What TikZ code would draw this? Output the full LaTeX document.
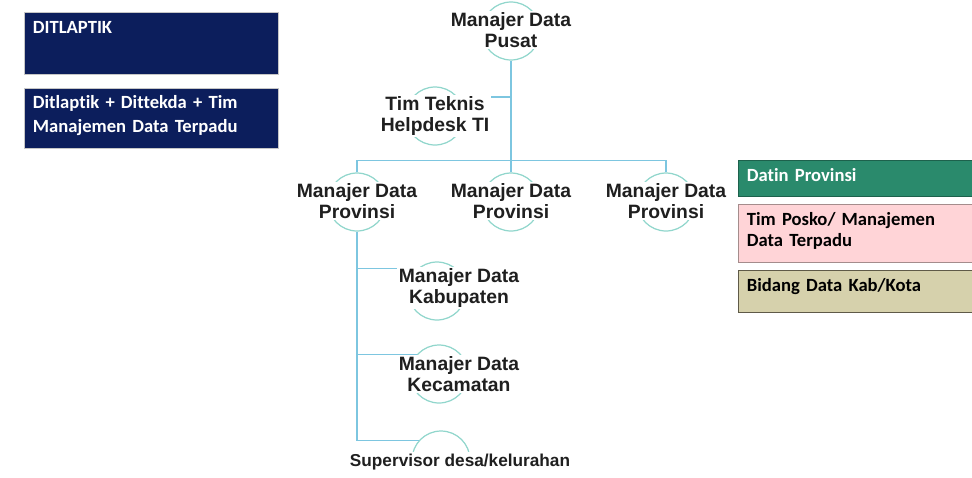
\documentclass[tikz,border=0pt]{standalone}
\usepackage{fontspec}
\setmainfont{Liberation Sans}
\newfontfamily\calibri[Ligatures=NoCommon]{Carlito}
\definecolor{navy}{RGB}{12,30,92}
\definecolor{datin}{RGB}{42,138,108}
\definecolor{posko}{RGB}{255,212,215}
\definecolor{poskoline}{RGB}{165,140,140}
\definecolor{bidang}{RGB}{214,209,172}
\definecolor{bidangline}{RGB}{95,90,72}
\definecolor{linkblue}{RGB}{125,198,224}
\definecolor{ringteal}{RGB}{145,214,204}
\tikzset{
  ring/.style={circle,draw=ringteal,line width=0.7pt,minimum size=1.16cm,inner sep=0pt},
  role/.style={fill=white,inner sep=1pt,align=center,text=black!88,
    font=\fontsize{11}{12}\selectfont\bfseries},
  link/.style={draw=linkblue,line width=0.85pt},
  legend/.style={anchor=north west,inner xsep=0.17cm,inner ysep=0pt,align=left,
    font=\calibri\fontsize{10.6}{12}\selectfont\bfseries},
}
\begin{document}
\begin{tikzpicture}[x=0.02cm,y=-0.02cm]
    \useasboundingbox (0,0) rectangle (972,477);
    \clip (0,0) rectangle (972,477);
    \node[ring] (c-pusat) at (511,31) {};
    \node[ring] (c-tim) at (435,116) {};
    \node[ring] (c-prov1) at (357,202) {};
    \node[ring] (c-prov2) at (511,202) {};
    \node[ring] (c-prov3) at (666,202) {};
    \node[ring] (c-kab) at (437,291) {};
    \node[ring] (c-kec) at (439,374) {};
    \node[ring] (c-sup) at (441,460) {};
    \draw[link] (c-pusat.south)--(c-prov2.north);
    \draw[link] (c-prov1.north)--++(0,-12)-|(c-prov3.north);
    \draw[link] (c-tim.40)--(c-tim.40 -| c-pusat.south);
    \draw[link] (c-prov1.south)|-(c-sup.139);
    \draw[link] (c-kab.131)--(c-kab.131 -| c-prov1.south);
    \draw[link] (c-kec.139)--(c-kec.139 -| c-prov1.south);
    \node[role] (pusat) at (511,30) {Manajer Data\\Pusat};
    \node[role] (tim) at (435,116) {Tim Teknis\\Helpdesk TI};
    \node[role] (prov1) at (357,201) {Manajer Data\\Provinsi};
    \node[role] (prov2) at (511,201) {Manajer Data\\Provinsi};
    \node[role] (prov3) at (666,201) {Manajer Data\\Provinsi};
    \node[role] (kab) at (459,288) {Manajer Data\\Kabupaten};
    \node[role] (kec) at (459,374) {Manajer Data\\Kecamatan};
    \node[role,anchor=base,text depth=0.6cm,font=\fontsize{9.8}{12}\selectfont\bfseries]
      (sup) at (460,466) {Supervisor desa/kelurahan};
    \node[legend,fill=navy,draw=gray!45,text=white,text width=4.74cm,
      text height=0.42cm,text depth=0.82cm] (ditlaptik) at (24,12) {DITLAPTIK};
    \node[legend,fill=navy,draw=gray!45,text=white,text width=4.74cm,
      text height=0.40cm,text depth=0.80cm,
      font=\calibri\fontsize{10.6}{13.6}\selectfont\bfseries] (timdata) at (24,88)
      {Ditlaptik + Dittekda + Tim\\Manajemen Data Terpadu};
    \node[legend,fill=datin,draw=datin!70!black,text=white,text width=4.7cm,
      text height=0.42cm,text depth=0.30cm] (datin) at (738,160) {Datin Provinsi};
    \node[legend,fill=posko,draw=poskoline,text=black,text width=4.7cm,
      text height=0.42cm,text depth=0.74cm] (posko) at (738,204)
      {Tim Posko/ Manajemen\\Data Terpadu};
    \node[legend,fill=bidang,draw=bidangline,text=black,text width=4.7cm,
      text height=0.42cm,text depth=0.42cm] (bidang) at (738,270) {Bidang Data Kab/Kota};
\end{tikzpicture}
\end{document}
